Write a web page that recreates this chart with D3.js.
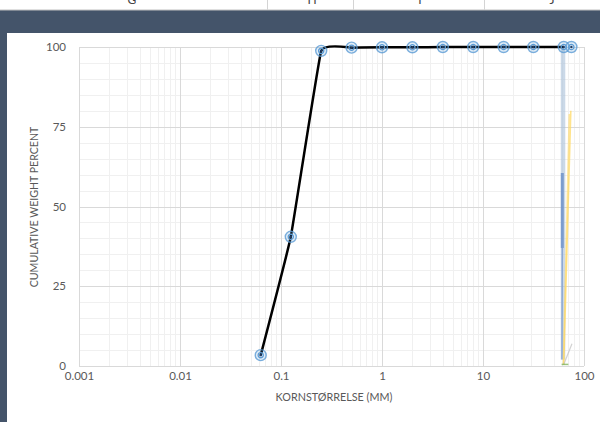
<!DOCTYPE html>
<html><head><meta charset="utf-8">
<script src="https://cdn.jsdelivr.net/npm/d3@7"></script>
<style>
html,body{margin:0;padding:0;background:#fff;}
svg{display:block;font-family:Lato,"Open Sans",sans-serif;}
</style></head>
<body><svg id="c" width="600" height="422"></svg>
<script>
// ---- data ----
const grainSizes = [0.063, 0.125, 0.25, 0.5, 1, 2, 4, 8, 16, 31.5, 63, 75];
const cumPercent = [3.4, 40.5, 98.8, 99.8, 99.9, 99.9, 100, 100, 100, 100, 100, 100];
const curveSizes = [0.063, 0.125, 0.25, 0.5, 1, 2, 4, 8, 16, 31.5, 63];
const curvePercent = [3.4, 40.5, 98.8, 99.8, 99.9, 99.9, 100, 100, 100, 100, 100];
const blueLightX = [62, 62];
const blueLightY = [100, 2];
const blueDarkX = [61, 61];
const blueDarkY = [60.5, 37];
const blueThinX = [61, 60.5];
const blueThinY = [37, 2];
const yellowAX = [74, 63];
const yellowAY = [80, 0.5];
const yellowBX = [71.5, 62.5];
const yellowBY = [79, 0.5];
const grayX = [76, 63];
const grayY = [7, 0.5];
const greenX = [60, 70];
const greenY = [0.5, 0.5];
const xTicks = [0.001, 0.01, 0.1, 1, 10, 100];
const xTickLabels = ["0.001", "0.01", "0.1", "1", "10", "100"];
const yTicks = [0, 25, 50, 75, 100];
const colHeaders = ["G", "H", "I", "J"];
const xTitle = "KORNSTØRRELSE (MM)";
const yTitle = "CUMULATIVE WEIGHT PERCENT";

const svg = d3.select("#c");
// spreadsheet background
svg.append("rect").attr("x",0).attr("y",0).attr("width",600).attr("height",422).attr("fill","#44546a");
svg.append("rect").attr("x",0).attr("y",0).attr("width",600).attr("height",10).attr("fill","#fff");
svg.append("line").attr("x1",0).attr("x2",600).attr("y1",10).attr("y2",10).attr("stroke","#bfbfbf");
const colSep = [267, 353, 484];
colSep.forEach(x=>svg.append("line").attr("x1",x+0.5).attr("x2",x+0.5).attr("y1",0).attr("y2",10).attr("stroke","#d4d4d4"));
const colPos = [132, 312, 420, 552];
colHeaders.forEach((t,i)=>svg.append("text").attr("x",colPos[i]).attr("y",4).attr("text-anchor","middle")
  .attr("font-size",12).attr("fill","#444").text(t));
svg.append("rect").attr("x",7).attr("y",33).attr("width",593).attr("height",389).attr("fill","#fff");

const x = d3.scaleLog().domain([0.001,100]).range([79,584]);
const y = d3.scaleLinear().domain([0,100]).range([366,47]);

// grid
const g = svg.append("g");
const minorX = [];
[0.001,0.01,0.1,1,10].forEach(d=>{for(let k=2;k<=9;k++) minorX.push(d*k);});
g.selectAll(".mx").data(minorX).enter().append("line")
  .attr("x1",d=>Math.round(x(d))+0.5).attr("x2",d=>Math.round(x(d))+0.5).attr("y1",y(0)).attr("y2",y(100))
  .attr("stroke","#f0f0f0").attr("stroke-width",1);
const minorY = d3.range(5,100,5).filter(v=>v%25!==0);
g.selectAll(".my").data(minorY).enter().append("line")
  .attr("x1",x(0.001)).attr("x2",x(100)).attr("y1",d=>Math.round(y(d))+0.5).attr("y2",d=>Math.round(y(d))+0.5)
  .attr("stroke","#f0f0f0").attr("stroke-width",1);
g.selectAll(".Mx").data(xTicks).enter().append("line")
  .attr("x1",d=>Math.round(x(d))+0.5).attr("x2",d=>Math.round(x(d))+0.5).attr("y1",y(0)).attr("y2",y(100))
  .attr("stroke","#d9d9d9").attr("stroke-width",1);
g.selectAll(".My").data(yTicks).enter().append("line")
  .attr("x1",x(0.001)).attr("x2",x(100)).attr("y1",d=>Math.round(y(d))+0.5).attr("y2",d=>Math.round(y(d))+0.5)
  .attr("stroke","#d9d9d9").attr("stroke-width",1);

// axes labels via d3 axes
const xAxis = d3.axisBottom(x).tickValues(xTicks).tickFormat((d,i)=>xTickLabels[i]).tickSize(0).tickPadding(6);
const xa = svg.append("g").attr("transform",`translate(0,${y(0)})`).call(xAxis);
xa.select(".domain").remove();
xa.selectAll("text").attr("font-size",11.5).attr("fill","#595959").attr("font-family","Lato,'Open Sans',sans-serif");
const yAxis = d3.axisLeft(y).tickValues(yTicks).tickSize(0).tickPadding(13);
const ya = svg.append("g").attr("transform",`translate(${x(0.001)},0)`).call(yAxis);
ya.select(".domain").remove();
ya.selectAll("text").attr("font-size",11.5).attr("fill","#595959").attr("font-family","Lato,'Open Sans',sans-serif");

svg.append("text").attr("x",334).attr("y",401).attr("text-anchor","middle").attr("font-size",10.8)
  .attr("fill","#595959").text(xTitle);
svg.append("text").attr("transform","translate(38,207) rotate(-90)").attr("text-anchor","middle").attr("font-size",10.6)
  .attr("fill","#595959").text(yTitle);

// extra series
const lineGen = d3.line().x(d=>x(d[0])).y(d=>y(d[1]));
function seg(xs, ys, color, w, op){
  svg.append("path").datum(xs.map((v,i)=>[v,ys[i]])).attr("d",lineGen).attr("fill","none")
    .attr("stroke",color).attr("stroke-width",w).attr("stroke-opacity",op);
}
seg(blueLightX, blueLightY, "#a9bfd9", 4.5, 0.6);
seg(blueThinX, blueThinY, "#7f9fd0", 1.5, 0.8);
seg(blueDarkX, blueDarkY, "#6e92c9", 3, 0.85);
seg(yellowAX, yellowAY, "#ffd966", 1.6, 0.75);
seg(yellowBX, yellowBY, "#ffd966", 1.6, 0.6);
seg(grayX, grayY, "#bfbfbf", 1.2, 0.7);
seg(greenX, greenY, "#70ad47", 1.5, 0.7);

// black curve
const curve = d3.line().x(d=>x(d[0])).y(d=>y(d[1])).curve(d3.curveCardinal.tension(0.75));
svg.append("path").datum(curveSizes.map((v,i)=>[v,curvePercent[i]])).attr("d",curve)
  .attr("fill","none").attr("stroke","#000").attr("stroke-width",2.5);

// markers
const pts = grainSizes.map((v,i)=>[v,cumPercent[i]]);
const m = svg.selectAll(".mk").data(pts).enter().append("g")
  .attr("transform",d=>`translate(${x(d[0])},${y(d[1])})`);
m.append("circle").attr("r",5.5).attr("fill","rgba(91,155,213,0.18)").attr("stroke","#5b9bd5").attr("stroke-width",1.4).attr("stroke-opacity",0.8);
m.append("circle").attr("r",2.6).attr("fill","none").attr("stroke","#5b9bd5").attr("stroke-width",1.3);
m.append("circle").attr("r",1.2).attr("fill","#1f3b63");
</script></body></html>
